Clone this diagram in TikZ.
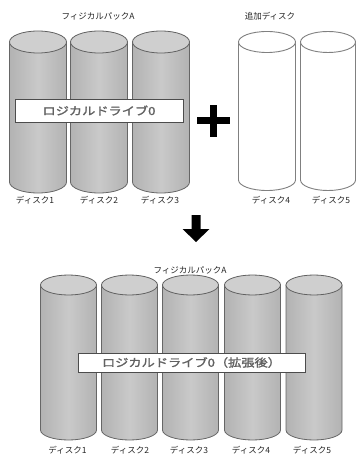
\documentclass[tikz,border=0pt]{standalone}
\usepackage{fontspec}
\usepackage{graphicx}
\newfontfamily\jp{Noto Sans CJK JP}
\newfontfamily\jpheavy[FakeBold=1.6]{Noto Sans CJK JP}
\begin{document}
\begin{tikzpicture}[x=1pt,y=-1pt,
  lbl/.style={font=\jp\fontsize{8.5}{9}\selectfont, text=black!85, inner sep=0pt},
  drivebox/.style={draw=black!70, line width=0.9pt, fill=white, inner sep=0pt,
    font=\jpheavy\fontsize{11}{12}\selectfont, text=black!62},
  graycyl/.style={draw=black!60, line width=0.8pt, left color=black!30,
    right color=black!30, middle color=black!21},
  graytop/.style={draw=black!62, line width=0.8pt, fill=black!19},
  whitecyl/.style={draw=black!50, line width=0.9pt, fill=white},
  bigsign/.style={fill=black, draw=none}]
\useasboundingbox (0,0) rectangle (357,457);

% cylinder: #1 centre x, #2 top y, #3 bottom y, #4 x radius, #5 y radius, #6 body style, #7 top style
\newcommand{\diskcyl}[7]{%
  \path[#6] (#1-#4,#2) -- (#1-#4,#3)
    arc[start angle=180, end angle=360, x radius=#4pt, y radius=#5pt]
    -- (#1+#4,#2) -- cycle;
  \path[#7] (#1,#2) ellipse [x radius=#4pt, y radius=#5pt];}

% ---- before: physical pack A + additional disks
\diskcyl{38}{42}{182}{28.5}{11}{graycyl}{graytop}
\diskcyl{99}{42}{182}{28.5}{11}{graycyl}{graytop}
\diskcyl{161}{42}{182}{28.5}{11}{graycyl}{graytop}
\diskcyl{267}{42}{180}{28.5}{10.5}{whitecyl}{whitecyl}
\diskcyl{328}{42}{180}{27.5}{10.5}{whitecyl}{whitecyl}

\node[lbl] (packA) at (98,16) {フィジカルパックA};
\node[lbl] (extra) at (270,16) {追加ディスク};

\node[drivebox, minimum width=168pt, minimum height=23pt] (ld0) at (99,110.5)
  {\scalebox{1.2}[1]{ロジカルドライブ0}};

\node[lbl] (d1) at (35,200) {ディスク1};
\node[lbl] (d2) at (99,200) {ディスク2};
\node[lbl] (d3) at (160,200) {ディスク3};
\node[lbl] (d4) at (271,200) {ディスク4};
\node[lbl] (d5) at (331,200) {ディスク5};

% plus sign
\fill[bigsign] (197,117.5) rectangle (230,124.5);
\fill[bigsign] (210,105) rectangle (217,137);

% down arrow
\fill[bigsign] (191.5,215) -- (200.5,215) -- (200.5,229) -- (209.5,229)
  -- (196,242) -- (182.5,229) -- (191.5,229) -- cycle;

% ---- after: expanded physical pack A
\node[lbl] (packB) at (190,270) {フィジカルパックA};
\diskcyl{68.5}{285}{430}{28}{10}{graycyl}{graytop}
\diskcyl{129.5}{285}{430}{28}{10}{graycyl}{graytop}
\diskcyl{190.5}{285}{430}{28}{10}{graycyl}{graytop}
\diskcyl{252.5}{285}{430}{28}{10}{graycyl}{graytop}
\diskcyl{314}{285}{430}{28}{10}{graycyl}{graytop}

\node[drivebox, minimum width=227pt, minimum height=19pt] (ld0x) at (191.5,362.5)
  {\scalebox{1.2}[1]{ロジカルドライブ0（拡張後）}};

\node[lbl] (e1) at (67.5,450) {ディスク1};
\node[lbl] (e2) at (130,450) {ディスク2};
\node[lbl] (e3) at (189,450) {ディスク3};
\node[lbl] (e4) at (251,450) {ディスク4};
\node[lbl] (e5) at (312,450) {ディスク5};
\end{tikzpicture}
\end{document}
